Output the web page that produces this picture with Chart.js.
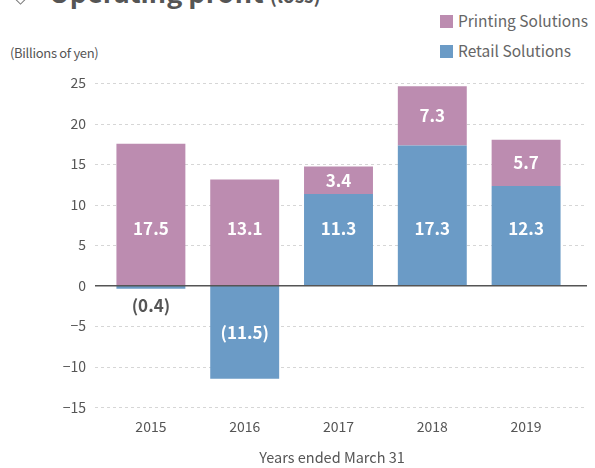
<!DOCTYPE html>
<html>
<head>
<meta charset="utf-8">
<script src="https://cdn.jsdelivr.net/npm/chart.js@4.4.1/dist/chart.umd.min.js"></script>
<style>
  body { margin: 0; background: #fff; font-family: "Noto Sans CJK JP", "Noto Sans", sans-serif; color: #555; }
  #wrap { position: relative; width: 595px; height: 468px; overflow: hidden; }
  #wrap canvas { position: absolute; left: 0; top: 0; }
  .title { position: absolute; left: 49px; top: -28px; font-size: 27px; font-weight: bold; color: #555; white-space: nowrap; }
  .title small { font-size: 19px; }
  .mark { position: absolute; left: 16px; top: -6px; width: 7px; height: 7px; border: 1.5px solid #777; transform: rotate(45deg); }
  .unit { position: absolute; left: 10px; top: 43px; font-size: 13px; color: #555; letter-spacing: -0.3px; }
  .xtitle { position: absolute; left: 232px; width: 200px; top: 446px; text-align: center; font-size: 14.5px; color: #555; }
  #legend { position: absolute; left: 440px; top: 9px; font-size: 15.5px; color: #666; }
  #legend div { height: 30px; line-height: 22px; white-space: nowrap; }
  #legend span { display: inline-block; width: 13px; height: 13px; margin-right: 5px; vertical-align: -1px; }
</style>
</head>
<body>
<div id="wrap">
  <div class="mark"></div>
  <div class="title">Operating profit <small>(loss)</small></div>
  <div class="unit">(Billions of yen)</div>
  <div id="legend"></div>
  <canvas id="opChart" width="595" height="468"></canvas>
  <div class="xtitle">Years ended March 31</div>
</div>
<script>
// Operating profit (loss) by segment
const years = ['2015', '2016', '2017', '2018', '2019'];
const printing = [17.5, 13.1, 3.4, 7.3, 5.7];
const retail = [-0.4, -11.5, 11.3, 17.3, 12.3];
const yTicks = [-15, -10, -5, 0, 5, 10, 15, 20, 25];
const seriesNames = ['Printing Solutions', 'Retail Solutions'];
const colors = { printing: '#bc8cb0', retail: '#6b9bc6' };

const FONT = '"Noto Sans CJK JP", "Noto Sans", sans-serif';

function fmt(v) {
  return v < 0 ? '(' + Math.abs(v).toFixed(1) + ')' : v.toFixed(1);
}

// legend, top right
const legendEl = document.getElementById('legend');
[[seriesNames[0], colors.printing], [seriesNames[1], colors.retail]].forEach(([name, c]) => {
  const d = document.createElement('div');
  d.innerHTML = '<span style="background:' + c + '"></span>' + name;
  legendEl.appendChild(d);
});

// dashed grid lines a bit wider than the plot, plus the zero line
const gridPlugin = {
  id: 'gridLines',
  beforeDatasetsDraw(chart) {
    const { ctx, chartArea, scales: { y } } = chart;
    ctx.save();
    ctx.strokeStyle = '#d6d6d6';
    ctx.lineWidth = 1;
    ctx.setLineDash([3, 3]);
    y.ticks.forEach(t => {
      if (t.value === 0) return;
      const py = Math.round(y.getPixelForValue(t.value)) + 0.5;
      ctx.beginPath();
      ctx.moveTo(chartArea.left - 9, py);
      ctx.lineTo(chartArea.right + 14, py);
      ctx.stroke();
    });
    ctx.restore();
  },
  afterDatasetsDraw(chart) {
    const { ctx, chartArea, scales: { y } } = chart;
    const py = y.getPixelForValue(0);
    ctx.save();
    ctx.strokeStyle = '#555';
    ctx.lineWidth = 1.5;
    ctx.beginPath();
    ctx.moveTo(chartArea.left - 9, py);
    ctx.lineTo(chartArea.right + 14, py);
    ctx.stroke();
    ctx.restore();
  }
};

// value labels inside the bars
const labelPlugin = {
  id: 'barLabels',
  afterDatasetsDraw(chart) {
    const { ctx, scales: { y } } = chart;
    const zero = y.getPixelForValue(0);
    ctx.save();
    ctx.font = 'bold 17px ' + FONT;
    ctx.textAlign = 'center';
    ctx.textBaseline = 'middle';
    chart.data.datasets.forEach((ds, i) => {
      chart.getDatasetMeta(i).data.forEach((bar, j) => {
        const v = ds.data[j];
        const h = Math.abs(bar.base - bar.y);
        let ly, col = '#fff';
        if (h < 20) {
          ly = bar.y + 17;
          col = '#555';
        } else if (v > 0 && Math.abs(bar.base - zero) < 1) {
          ly = y.getPixelForValue(7.1);
        } else {
          ly = (bar.y + bar.base) / 2;
        }
        ctx.fillStyle = col;
        ctx.fillText(fmt(v), bar.x, ly);
      });
    });
    ctx.restore();
  }
};

new Chart(document.getElementById('opChart'), {
  type: 'bar',
  data: {
    labels: years,
    datasets: [
      { label: seriesNames[1], data: retail, backgroundColor: colors.retail, stack: 's' },
      { label: seriesNames[0], data: printing, backgroundColor: colors.printing, stack: 's' }
    ]
  },
  options: {
    responsive: false,
    animation: false,
    layout: { padding: { top: 83, right: 22, bottom: 22, left: 0 } },
    datasets: { bar: { barPercentage: 0.735, categoryPercentage: 1 } },
    plugins: {
      legend: { display: false },
      tooltip: { enabled: false }
    },
    scales: {
      x: {
        stacked: true,
        grid: { display: false, drawTicks: false },
        border: { display: false },
        ticks: { color: '#555', font: { family: FONT, size: 14 }, padding: 11 }
      },
      y: {
        stacked: true,
        min: -15,
        max: 25,
        afterBuildTicks: s => { s.ticks = yTicks.map(v => ({ value: v })); },
        afterFit: s => { s.width = 104; },
        grid: { display: false, drawTicks: false },
        border: { display: false },
        ticks: {
          color: '#555',
          font: { family: FONT, size: 14 },
          padding: 18,
          callback: v => v < 0 ? '\u2212' + Math.abs(v) : String(v)
        }
      }
    }
  },
  plugins: [gridPlugin, labelPlugin]
});
</script>
</body>
</html>
